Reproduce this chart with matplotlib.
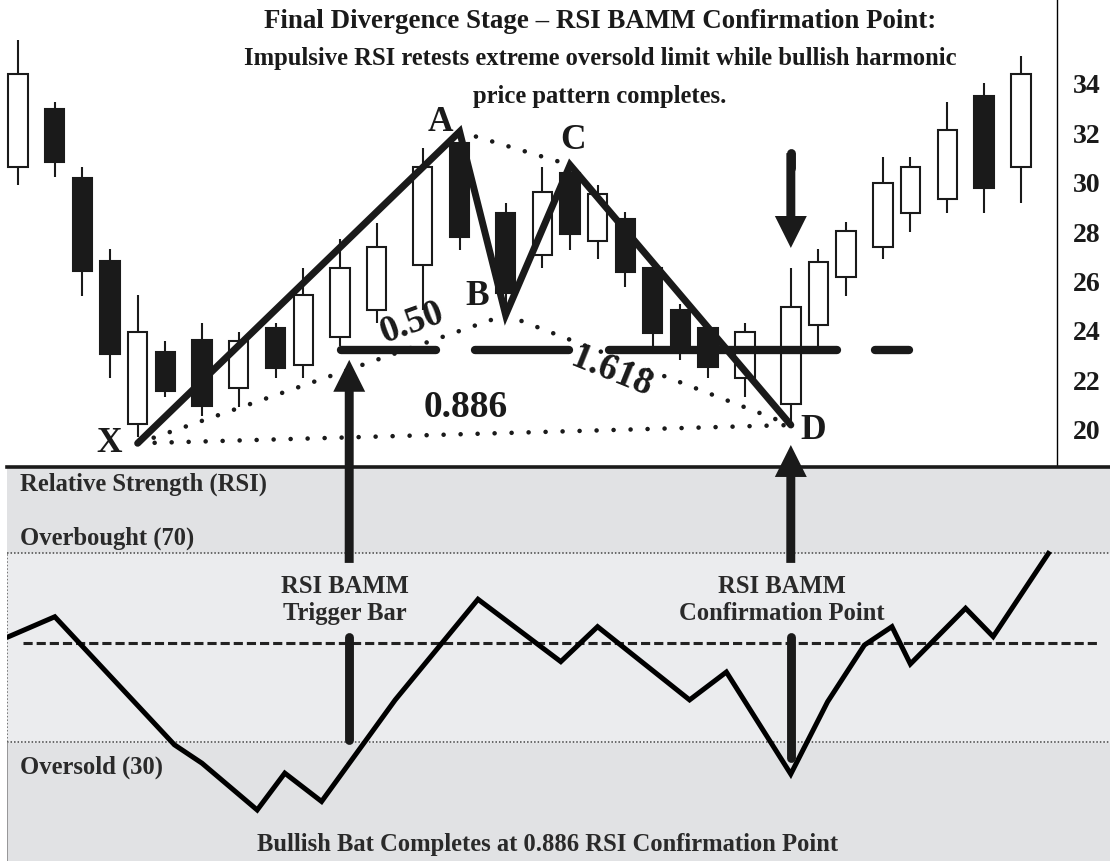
import matplotlib
matplotlib.use('Agg')
import matplotlib.pyplot as plt
from matplotlib.patches import Rectangle, ConnectionPatch, ArrowStyle

plt.rcParams['font.family'] = ['Liberation Serif', 'DejaVu Serif']
plt.rcParams['font.weight'] = 'bold'

# ---------------- data ----------------
bar_x = [2, 6, 9, 12, 15, 18, 22, 26, 30, 33, 37, 41, 46, 50, 55, 59, 62, 65, 68, 71,
         74, 77, 81, 86, 89, 92, 96, 99, 103, 107, 111]
opens = [30.65, 32.99, 30.18, 26.83, 20.22, 23.16, 23.64, 21.70, 24.11, 22.62, 23.74, 24.85,
         26.67, 31.60, 28.77, 27.08, 30.38, 27.66, 28.52, 26.56, 24.85, 24.11, 22.11, 21.03,
         24.24, 26.17, 27.41, 28.79, 29.34, 33.51, 30.65]
highs = [35.78, 33.28, 30.65, 27.32, 25.46, 23.60, 24.34, 23.97, 24.34, 26.56, 27.71, 28.36,
         31.40, 32.07, 29.17, 30.65, 30.72, 29.91, 28.81, 26.60, 25.10, 24.20, 24.34, 26.56,
         27.32, 28.43, 31.03, 31.03, 33.28, 34.03, 35.15]
lows = [29.91, 30.25, 25.42, 22.09, 19.72, 21.32, 20.57, 20.90, 22.09, 22.09, 23.40, 24.31,
        24.85, 27.28, 24.65, 26.54, 27.28, 26.91, 25.79, 23.36, 22.83, 22.09, 21.34, 20.19,
        23.40, 25.43, 26.91, 28.02, 28.77, 28.77, 29.17]
closes = [34.39, 30.84, 26.43, 23.07, 23.95, 21.57, 20.98, 23.60, 22.51, 25.46, 26.56, 27.41,
          30.63, 27.79, 25.54, 29.64, 27.93, 29.53, 26.38, 23.91, 23.36, 22.53, 23.95, 24.98,
          26.81, 28.05, 30.00, 30.65, 32.14, 29.78, 34.39]

# harmonic pattern points X, A, B, C, D
pattern_names = ['X', 'A', 'B', 'C', 'D']
pattern_x = [15, 50, 55, 62, 86]
pattern_y = [19.45, 32.07, 24.65, 30.72, 20.19]

ratio_labels = ['0.50', '1.618', '0.886']
bamm_level = 23.23
price_ticks = [20, 22, 24, 26, 28, 30, 32, 34]

rsi_x = [1, 6, 19, 22, 28, 31, 35, 43, 52, 61, 65, 75, 79, 86, 90, 94, 97, 99, 105, 108, 114]
rsi_vals = [52.3, 56.5, 29.4, 25.5, 15.6, 23.4, 17.4, 38.9, 60.2, 47.0, 54.4, 38.9, 44.8, 23.2,
            38.5, 50.5, 54.4, 46.5, 58.3, 52.3, 69.9]
overbought, oversold, mid_level = 70, 30, 51

trigger_bar_x = 38
confirm_bar_x = 86

# ---------------- figure ----------------
W, H = 1110, 861
fig = plt.figure(figsize=(W / 100, H / 100), dpi=100)
fig.patch.set_facecolor('white')

ax_top = fig.add_axes([0, 394 / H, 1057 / W, 467 / H])
ax_bot = fig.add_axes([7 / W, 0, 1103 / W, 394 / H])

ax_top.set_xlim(0.04, 114.93)
ax_top.set_ylim(18.49, 37.40)
ax_bot.set_xlim(0.804, 120.7)
ax_bot.set_ylim(4.8, 88.2)

# ---- candles ----
bw = 2.1
for x, o, h, l, c in zip(bar_x, opens, highs, lows, closes):
    ax_top.plot([x, x], [l, h], color='#1a1a1a', lw=1.5, zorder=1, solid_capstyle='butt')
    bull = c >= o
    ax_top.add_patch(Rectangle((x - bw / 2, min(o, c)), bw, abs(c - o),
                               facecolor='white' if bull else '#1a1a1a',
                               edgecolor='#1a1a1a', lw=1.5, zorder=2))

# ---- dotted ratio legs ----
P = dict(zip(pattern_names, zip(pattern_x, pattern_y)))
dot_kw = dict(color='#1a1a1a', lw=3.3, ls=(0, (0.01, 3.7)), dash_capstyle='round', zorder=3)
for a, b in [('X', 'B'), ('A', 'C'), ('B', 'D'), ('X', 'D')]:
    ax_top.plot([P[a][0], P[b][0]], [P[a][1], P[b][1]], **dot_kw)

# ---- thick BAMM level ----
level_segments = [(37.1, 47.4), (51.7, 61.9), (66.2, 91.0), (95.2, 98.8)]
for s, e in level_segments:
    ax_top.plot([s, e], [bamm_level, bamm_level], color='#1a1a1a', lw=6,
                solid_capstyle='round', zorder=4)

# ---- XABCD legs ----
ax_top.plot(pattern_x, pattern_y, color='#1a1a1a', lw=5, solid_capstyle='round',
            solid_joinstyle='miter', zorder=4)

# ---- labels ----
label_pos = {'X': (11.95, 19.45), 'A': (47.9, 32.45), 'B': (51.9, 25.38),
             'C': (62.3, 31.73), 'D': (88.4, 19.95)}
for n in pattern_names:
    ax_top.text(*label_pos[n], n, fontsize=25.5, fontweight='bold', ha='center',
                va='center', color='#1a1a1a', zorder=6)
ratio_pos = [(44.8, 24.32, 20), (66.5, 22.33, -22), (50.7, 20.88, 0)]
for t, (x, y, r) in zip(ratio_labels, ratio_pos):
    ax_top.text(x, y, t, fontsize=27, fontweight='bold', ha='center', va='center',
                rotation=r, rotation_mode='anchor', color='#1a1a1a', zorder=6)

# ---- top axis styling ----
for s in ['top', 'left', 'bottom']:
    ax_top.spines[s].set_visible(False)
ax_top.spines['right'].set_linewidth(1.0)
ax_top.set_xticks([])
ax_top.yaxis.tick_right()
ax_top.set_yticks(price_ticks)
ax_top.set_yticklabels([str(v) for v in price_ticks])
ax_top.tick_params(axis='y', length=0, pad=11.5, labelsize=20, labelcolor='#1a1a1a')
for lbl in ax_top.get_yticklabels():
    lbl.set_fontweight('bold')

# down arrow above D
arr = ArrowStyle.Simple(head_length=1.0, head_width=1.0, tail_width=0.28)
ax_top.annotate('', xy=(confirm_bar_x, 27.36), xytext=(confirm_bar_x, 31.2),
                arrowprops=dict(arrowstyle=arr, mutation_scale=23, fc='#1a1a1a',
                                ec='none', shrinkA=0, shrinkB=0), zorder=6)
ax_top.plot([confirm_bar_x, confirm_bar_x], [31.2, 30.6], color='#1a1a1a', lw=6.4,
            solid_capstyle='round', zorder=6)

# ---------------- RSI panel ----------------
ax_bot.set_facecolor('#e1e2e4')
ax_bot.axhspan(oversold, overbought, color='#ebecee', zorder=0)
for lvl in (overbought, oversold):
    ax_bot.axhline(lvl, color='#444444', lw=1.1, ls=(0, (1, 1.3)), zorder=1)
ax_bot.plot([2.5, 119.3], [mid_level, mid_level], color='#222222', lw=2.2,
            ls=(0, (3, 1.3)), zorder=2)
ax_bot.plot(rsi_x, rsi_vals, color='black', lw=3.6, solid_joinstyle='miter', zorder=3)

for s in ['right', 'bottom', 'left']:
    ax_bot.spines[s].set_visible(False)
ax_bot.spines['top'].set_linewidth(2.6)
ax_bot.spines['top'].set_color('#1a1a1a')
ax_bot.axvline(0.85, ymin=0, ymax=(oversold - 4.8) / (88.2 - 4.8), color='#8a8a8a', lw=1.2)
ax_bot.plot([0.85, 0.85], [oversold, overbought], color='#555555', lw=1.1, ls=(0, (1, 1.3)))
ax_bot.set_xticks([])
ax_bot.set_yticks([])

txt_kw = dict(fontsize=17.7, fontweight='bold', color='#2a2a2a')
ax_bot.text(2.2, 84.6, 'Relative Strength (RSI)', ha='left', va='center', **txt_kw)
ax_bot.text(2.2, 73.2, 'Overbought (70)', ha='left', va='center', **txt_kw)
ax_bot.text(2.2, 24.7, 'Oversold (30)', ha='left', va='center', **txt_kw)
ax_bot.text(59.6, 8.2, 'Bullish Bat Completes at 0.886 RSI Confirmation Point',
            ha='center', va='center', **txt_kw)

# ---- long arrows spanning both panels (split around their labels) ----
gap_top, gap_bottom = 67.9, 52.2
for bx, y_bot, y_tip in [(trigger_bar_x, 30.5, 22.83), (confirm_bar_x, 26.6, 19.38)]:
    cp = ConnectionPatch(xyA=(bx, gap_top), coordsA=ax_bot.transData,
                         xyB=(bx, y_tip), coordsB=ax_top.transData,
                         arrowstyle=arr, mutation_scale=23, shrinkA=0, shrinkB=0,
                         fc='#1a1a1a', ec='none', zorder=2)
    fig.add_artist(cp)
    ax_bot.plot([bx, bx], [gap_bottom, y_bot], color='#1a1a1a', lw=6.4,
                solid_capstyle='round', zorder=4)

fig.text(37.5, 60.0, 'RSI BAMM\nTrigger Bar', transform=ax_bot.transData, ha='center',
         va='center', linespacing=1.2, zorder=5, **txt_kw)
fig.text(85.0, 60.0, 'RSI BAMM\nConfirmation Point', transform=ax_bot.transData,
         ha='center', va='center', linespacing=1.2, zorder=5, **txt_kw)

# ---- title ----
title_lines = ['Final Divergence Stage \u2013 RSI BAMM Confirmation Point:',
               'Impulsive RSI retests extreme oversold limit while bullish harmonic',
               'price pattern completes.']
title_sizes = [19.4, 17.7, 17.7]
for i, (t, fs) in enumerate(zip(title_lines, title_sizes)):
    fig.text(600 / W, 1 - (21 + 38 * i) / H, t, ha='center', va='center',
             fontsize=fs, fontweight='bold', color='#1a1a1a', zorder=6)

fig.savefig('out.png', dpi=100)
